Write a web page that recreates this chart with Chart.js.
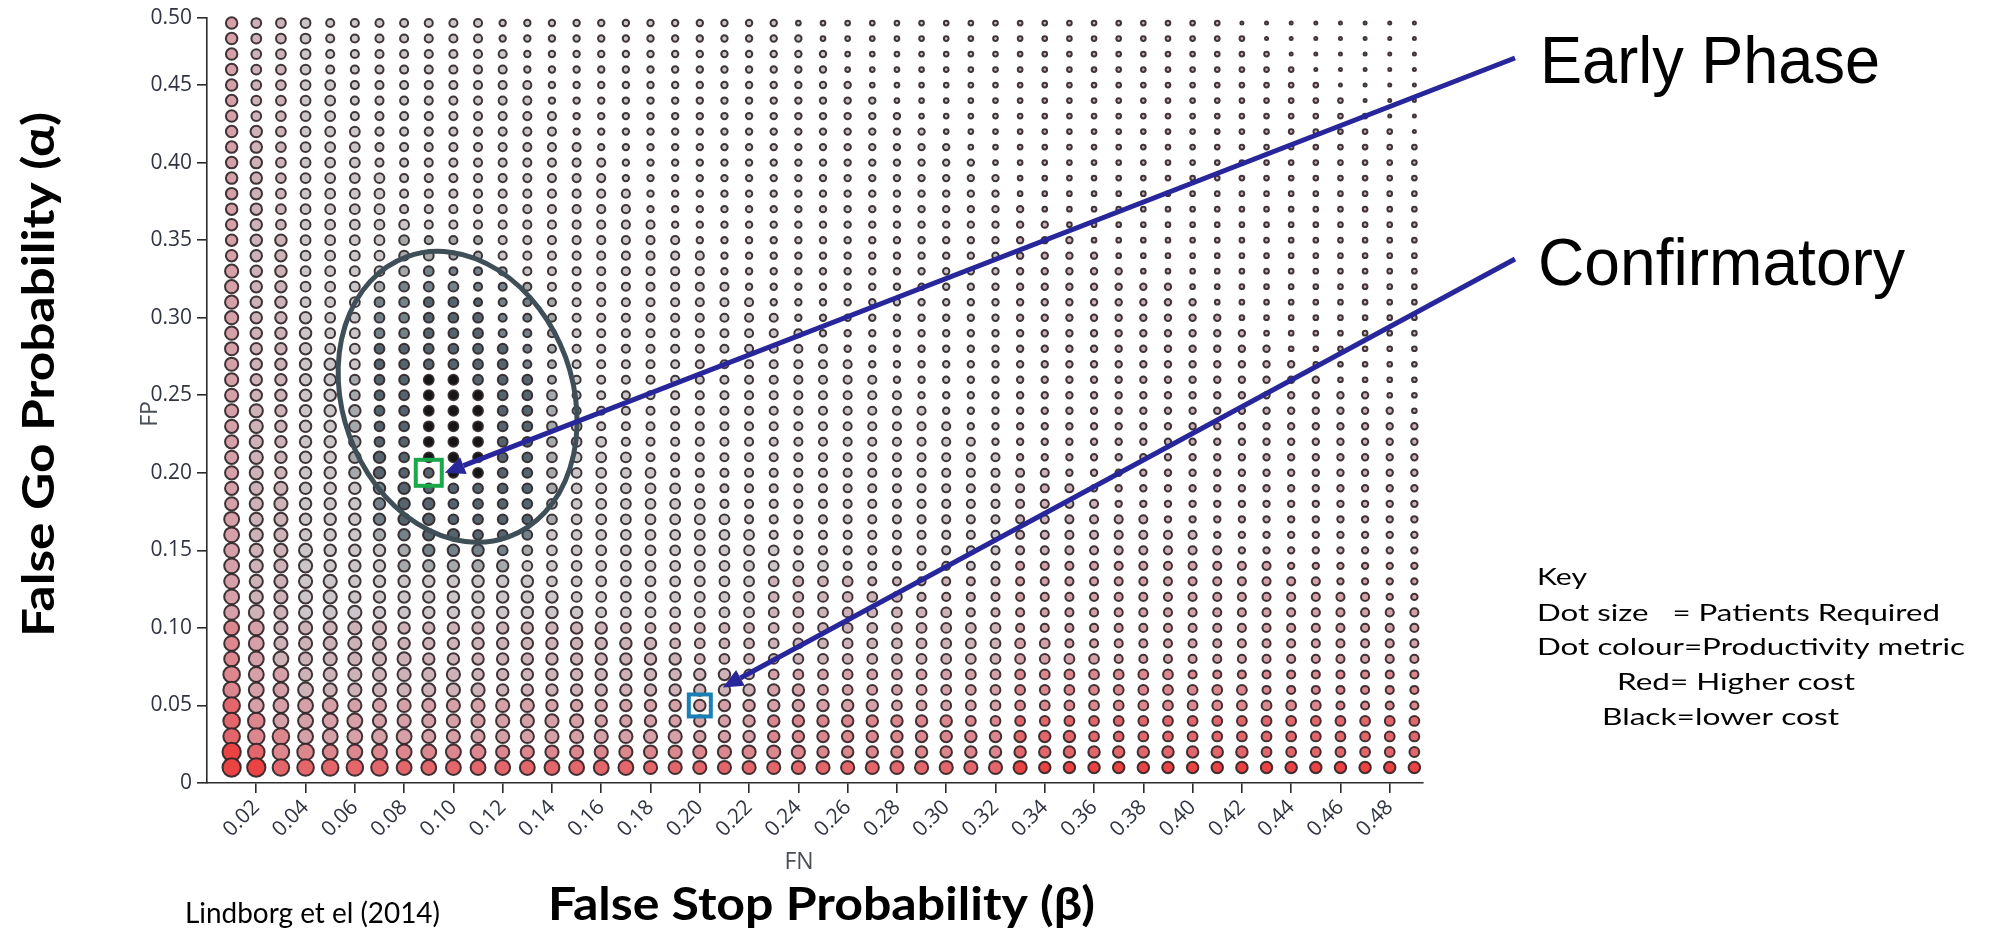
<!DOCTYPE html>
<html>
<head>
<meta charset="utf-8">
<script src="https://cdn.jsdelivr.net/npm/chart.js@4.4.1/dist/chart.umd.min.js"></script>
<style>
html,body{margin:0;padding:0;background:#ffffff;}
#wrap{width:1997px;height:937px;position:relative;overflow:hidden;}
</style>
</head>
<body>
<div id="wrap"><canvas id="c" width="1997" height="937"></canvas></div>
<script>
// ---------------- DATA ----------------
// FN (false stop probability, beta) : one column of dots per value
const betaValues = [0.01,0.02,0.03,0.04,0.05,0.06,0.07,0.08,0.09,0.10,0.11,0.12,0.13,0.14,0.15,0.16,0.17,0.18,0.19,0.20,0.21,0.22,0.23,0.24,0.25,0.26,0.27,0.28,0.29,0.30,0.31,0.32,0.33,0.34,0.35,0.36,0.37,0.38,0.39,0.40,0.41,0.42,0.43,0.44,0.45,0.46,0.47,0.48,0.49];
// FP (false go probability, alpha) : one row of dots per value, listed top to bottom
const alphaValues = [0.49,0.48,0.47,0.46,0.45,0.44,0.43,0.42,0.41,0.40,0.39,0.38,0.37,0.36,0.35,0.34,0.33,0.32,0.31,0.30,0.29,0.28,0.27,0.26,0.25,0.24,0.23,0.22,0.21,0.20,0.19,0.18,0.17,0.16,0.15,0.14,0.13,0.12,0.11,0.10,0.09,0.08,0.07,0.06,0.05,0.04,0.03,0.02,0.01];

// Patients required (dot size), level 0 (fewest) .. 9 (most), one string per row (top row first), one digit per FN column
const patientsLevel = [
"5 444 3333333 222222222222 111111111111111111 00000000",
"5 444 3333333 2222222222222 111111111111111111 0000000",
"5 444 33333333 2222222222222 111111111111111111 000000",
"5 444 33333333 2222222222222 1111111111111111111 00000",
"5 4444 33333333 2222222222222 1111111111111111111 0000",
"5 4444 33333333 22222222222222 1111111111111111111 000",
"5 4444 333333333 22222222222222 1111111111111111111 00",
"55 4444 33333333 222222222222222 1111111111111111111 0",
"55 4444 333333333 222222222222222 1111111111111111111",
"55 4444 3333333333 222222222222222 111111111111111111",
"55 44444 333333333 2222222222222222 11111111111111111",
"55 44444 3333333333 222222222222222 11111111111111111",
"55 44444 3333333333 2222222222222222 1111111111111111",
"55 444444 3333333333 2222222222222222 111111111111111",
"555 44444 33333333333 2222222222222222 11111111111111",
"555 444444 33333333333 2222222222222222 1111111111111",
"6 55 444444 33333333333 22222222222222222 111111111111",
"6 55 4444444 33333333333 222222222222222222 1111111111",
"6 55 4444444 333333333333 222222222222222222 111111111",
"6 555 4444444 333333333333 222222222222222222 11111111",
"6 555 4444444 3333333333333 222222222222222222 1111111",
"6 555 44444444 3333333333333 222222222222222222 111111",
"6 5555 4444444 33333333333333 222222222222222222 11111",
"6 5555 44444444 33333333333333 222222222222222222 1111",
"6 5555 444444444 33333333333333 2222222222222222222 11",
"66 5555 44444444 333333333333333 2222222222222222222 1",
"66 5555 444444444 333333333333333 2222222222222222222",
"66 5555 4444444444 333333333333333 222222222222222222",
"66 55555 4444444444 333333333333333 22222222222222222",
"66 55555 44444444444 3333333333333333 222222222222222",
"666 55555 44444444444 3333333333333333 22222222222222",
"666 555555 44444444444 3333333333333333 2222222222222",
"7 66 555555 444444444444 33333333333333333 22222222222",
"7 66 5555555 444444444444 333333333333333333 222222222",
"7 666 5555555 444444444444 333333333333333333 22222222",
"7 666 55555555 4444444444444 333333333333333333 222222",
"7 6666 55555555 4444444444444 3333333333333333333 2222",
"7 6666 555555555 44444444444444 3333333333333333333 22",
"77 6666 555555555 444444444444444 3333333333333333333",
"77 66666 555555555 4444444444444444 33333333333333333",
"77 66666 55555555555 4444444444444444 333333333333333",
"777 66666 55555555555 44444444444444444 3333333333333",
"8 77 6666666 55555555555 444444444444444444 3333333333",
"8 777 6666666 5555555555555 444444444444444444 3333333",
"8 7777 66666666 55555555555555 444444444444444444 3333",
"88 7777 666666666 555555555555555 4444444444444444444",
"888 77777 66666666666 5555555555555555 44444444444444",
"9 888 7777777 6666666666666 555555555555555555 4444444",
"99 88888 7777777777 6666666666666666 5555555555555555"
];

// Productivity metric (dot colour), 0 = lowest cost (black) .. 9 = highest cost (red)
const costTop = "65544444444444 44444444 4444444444 55555555555555555";
const cost35  = "65544443333444 44444444 4444444444 55555555555555555";
const cost33  = "65544443222344 44444444 4444444444 55555555555555555";
const cost32  = "65544432222234 44444444 4444444444 55555555555555555";
const cost31  = "65544422111223 44444444 4444444444 55555555555555555";
const cost28  = "65544411111123 44444444 4444444444 55555555555555555";
const cost26  = "65544311001113 44444444 4444444444 55555555555555555";
const cost25  = "65544311000113 44444444 4444444444 55555555555555555";
const cost20  = "65544311100113 44444444 4444444444 55555555555555555";
const cost19  = "65544421111113 44444444 4444444444 55555555555555555";
const cost16  = "65544432111124 44444444 4444444444 55555555555555555";
const cost15  = "65544443222234 44444444 4444444444 55555555555555555";
const cost14  = "65544443333344 44444444 4444444444 66666666666666666";
const cost13  = "65544444444444 44444444 5555555555 66666666666666666";
const cost10  = "76555555555555 55555555 5555555555 66666666666666666";
const cost07  = "76655555555555 55555555 6666666666 77777777777777777";
const cost05  = "86666666666666 66666666 6666666666 77777777777777777";
const cost04  = "87666666666666 66666666 7777777777 88888888888888888";
const cost03  = "87766666666666 66666666 7777777777 88888888888888888";
const cost02  = "98777777777777 77777777 7777777777 88888888888888888";
const cost01  = "99888888888888 88888888 8888888888 99999999999999999";
const costLevel = [
  costTop,costTop,costTop,costTop,costTop,costTop,costTop,costTop,costTop,costTop,costTop,costTop,costTop,costTop,
  cost35,cost35,cost33,cost32,cost31,cost31,cost31,cost28,cost28,cost26,
  cost25,cost25,cost25,cost25,cost25,cost20,cost19,cost19,cost19,cost16,cost15,cost14,
  cost13,cost13,cost13,cost10,cost10,cost10,cost07,cost07,cost05,cost04,cost03,cost02,cost01
];

// axis ticks
const xTickValues = [0.02,0.04,0.06,0.08,0.10,0.12,0.14,0.16,0.18,0.20,0.22,0.24,0.26,0.28,0.30,0.32,0.34,0.36,0.38,0.40,0.42,0.44,0.46,0.48];
const xTickLabels = ['0.02','0.04','0.06','0.08','0.10','0.12','0.14','0.16','0.18','0.20','0.22','0.24','0.26','0.28','0.30','0.32','0.34','0.36','0.38','0.40','0.42','0.44','0.46','0.48'];
const yTickValues = [0,0.05,0.10,0.15,0.20,0.25,0.30,0.35,0.40,0.45,0.50];
const yTickLabels = ['0','0.05','0.10','0.15','0.20','0.25','0.30','0.35','0.40','0.45','0.50'];

// highlighted designs
const earlyPhasePoint = {x:0.09, y:0.20};
const confirmatoryPoint = {x:0.20, y:0.05};
const ellipseCentre = {x:0.1017, y:0.249};

// ---------------- STYLE ----------------
const costColours = ['#161616','#56656d','#74828a','#a5a9ac','#cbc6c9','#cdb2b8','#d5a0a7','#dc868d','#e3666b','#ea4343'];
function radiusFor(level){ return 1.5 + 0.85*level; }

// ---------------- BUILD ----------------
const points = [];
const badRows = [];
alphaValues.forEach((a, r) => {
  const sRow = patientsLevel[r].replace(/ /g,'');
  const cRow = costLevel[r].replace(/ /g,'');
  if (sRow.length !== betaValues.length || cRow.length !== betaValues.length) badRows.push(a+':'+sRow.length+'/'+cRow.length);
  betaValues.forEach((b, c) => {
    points.push({x:b, y:a, n:+sRow[c], k:+cRow[c]});
  });
});

function fitText(ctx, text, x, y, targetW, capH, family, weight, colour, rot){
  ctx.save();
  ctx.font = weight + ' 100px ' + family;
  const cap100 = ctx.measureText('H').actualBoundingBoxAscent || 72;
  const size = 100*capH/cap100;
  ctx.font = weight + ' ' + size + 'px ' + family;
  const w = ctx.measureText(text).width;
  ctx.translate(x, y);
  if (rot) ctx.rotate(rot);
  ctx.scale(targetW/w, 1);
  ctx.textAlign = 'left';
  ctx.textBaseline = 'alphabetic';
  ctx.fillStyle = colour;
  ctx.fillText(text, 0, 0);
  ctx.restore();
}

function arrow(ctx, x1, y1, x2, y2){
  const ang = Math.atan2(y2-y1, x2-x1);
  const hl = 20, hw = 9;
  const bx = x2 - hl*Math.cos(ang), by = y2 - hl*Math.sin(ang);
  ctx.save();
  ctx.strokeStyle = '#27279b';
  ctx.fillStyle = '#27279b';
  ctx.lineWidth = 5;
  ctx.lineCap = 'butt';
  ctx.beginPath(); ctx.moveTo(x1,y1); ctx.lineTo(bx,by); ctx.stroke();
  ctx.beginPath();
  ctx.moveTo(x2,y2);
  ctx.lineTo(bx + hw*Math.sin(ang), by - hw*Math.cos(ang));
  ctx.lineTo(bx - hw*Math.sin(ang), by + hw*Math.cos(ang));
  ctx.closePath(); ctx.fill();
  ctx.restore();
}

const annotations = {
  id:'annotations',
  afterDatasetsDraw(chart){
    const ctx = chart.ctx, xs = chart.scales.x, ys = chart.scales.y;
    ctx.save();
    ctx.beginPath();
    ctx.ellipse(xs.getPixelForValue(ellipseCentre.x), ys.getPixelForValue(ellipseCentre.y), 115, 149, -20*Math.PI/180, 0, Math.PI*2);
    ctx.lineWidth = 5; ctx.strokeStyle = '#3e4f58'; ctx.stroke();
    ctx.restore();
    const ex = xs.getPixelForValue(earlyPhasePoint.x), ey = ys.getPixelForValue(earlyPhasePoint.y);
    const cx = xs.getPixelForValue(confirmatoryPoint.x), cy = ys.getPixelForValue(confirmatoryPoint.y);
    ctx.save();
    ctx.lineWidth = 4;
    ctx.strokeStyle = '#19a84a'; ctx.strokeRect(ex-13, ey-13, 26, 26);
    ctx.strokeStyle = '#1a7fb5'; ctx.strokeRect(cx-11, cy-11, 22, 22);
    ctx.restore();
    arrow(ctx, 1515, 58, ex+16, ey);
    arrow(ctx, 1515, 259, cx+23, cy-18);
  },
  afterDraw(chart){
    const ctx = chart.ctx;
    fitText(ctx, 'Early Phase', 1540, 83, 340, 46, "'Liberation Sans', Arial, sans-serif", '400', '#000');
    fitText(ctx, 'Confirmatory', 1538, 285, 367, 46, "'Liberation Sans', Arial, sans-serif", '400', '#000');
    fitText(ctx, 'False Go Probability (\u03b1)', 54, 637, 525, 32, "Lato, sans-serif", '700', '#000', -Math.PI/2);
    fitText(ctx, 'False Stop Probability (\u03b2)', 548, 920, 547, 33, "Lato, sans-serif", '700', '#000');
    fitText(ctx, 'Lindborg et el (2014)', 185, 923, 255, 21, "Lato, sans-serif", '400', '#000');
    fitText(ctx, 'Key', 1537, 585, 50, 17, "Lato, sans-serif", '400', '#000');
    fitText(ctx, 'Dot size   = Patients Required', 1537, 621, 403, 17, "Lato, sans-serif", '400', '#000');
    fitText(ctx, 'Dot colour=Productivity metric', 1537, 655, 428, 17, "Lato, sans-serif", '400', '#000');
    fitText(ctx, 'Red= Higher cost', 1617, 690, 238, 17, "Lato, sans-serif", '400', '#000');
    fitText(ctx, 'Black=lower cost', 1602, 725, 237, 17, "Lato, sans-serif", '400', '#000');
    ctx.save();
    ctx.fillStyle = '#4a4f57';
    ctx.font = "23px 'Open Sans', sans-serif";
    ctx.textAlign = 'center'; ctx.textBaseline = 'middle';
    ctx.fillText('FN', 799, 862);
    ctx.translate(150, 414); ctx.rotate(-Math.PI/2);
    ctx.fillText('FP', 0, 0);
    ctx.restore();
    if (badRows.length){
      ctx.save(); ctx.fillStyle='red'; ctx.font='16px sans-serif';
      ctx.fillText('BAD ROWS: '+badRows.join(' '), 1500, 900); ctx.restore();
    }
  }
};

const tickFont = {family:"'Open Sans', sans-serif", size:21};
new Chart(document.getElementById('c'), {
  type:'scatter',
  data:{datasets:[{
    data: points,
    clip: false,
    pointRadius: c => radiusFor(c.raw ? c.raw.n : 0),
    pointHoverRadius: c => radiusFor(c.raw ? c.raw.n : 0),
    pointBackgroundColor: c => costColours[c.raw ? c.raw.k : 4],
    pointBorderColor: 'rgba(44,34,38,0.9)',
    pointBorderWidth: 2
  }]},
  options:{
    responsive:false, animation:false, events:[],
    layout:{padding:{left:0,right:574,top:13,bottom:0}},
    plugins:{legend:{display:false}, tooltip:{enabled:false}},
    scales:{
      x:{type:'linear', min:0, max:0.4935,
        border:{display:true, color:'#2b2b2b', width:1.6},
        grid:{display:true, drawOnChartArea:false, drawTicks:true, tickLength:10, color:'#2b2b2b', lineWidth:1.6},
        ticks:{autoSkip:false, minRotation:45, maxRotation:45, padding:2, color:'#2f3440', font:tickFont,
          callback:(v,i)=>xTickLabels[i]},
        afterBuildTicks: s => { s.ticks = xTickValues.map(v=>({value:v})); },
        afterFit: s => { s.height = 154; }
      },
      y:{type:'linear', min:0, max:0.4935,
        border:{display:true, color:'#2b2b2b', width:1.6},
        grid:{display:true, drawOnChartArea:false, drawTicks:true, tickLength:10, color:'#2b2b2b', lineWidth:1.6},
        ticks:{autoSkip:false, padding:5, color:'#2f3440', font:tickFont,
          callback:(v,i)=>yTickLabels[i]},
        afterBuildTicks: s => { s.ticks = yTickValues.map(v=>({value:Math.min(v, s.max)})); },
        afterFit: s => { s.width = 207; }
      }
    }
  },
  plugins:[annotations]
});
</script>
</body>
</html>
